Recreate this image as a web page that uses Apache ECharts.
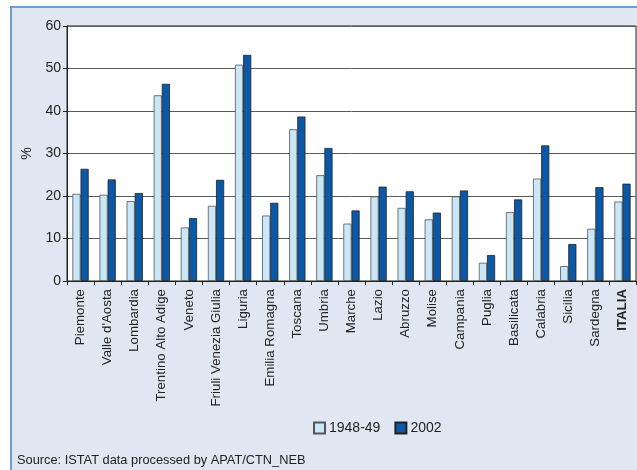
<!DOCTYPE html>
<html>
<head>
<meta charset="utf-8">
<script src="https://cdn.jsdelivr.net/npm/echarts@6/dist/echarts.min.js"></script>
<style>
html,body{margin:0;padding:0;background:#fff;}
#c{width:637px;height:470px;}
</style>
</head>
<body>
<div id="c"></div>
<script>
const categories = ["Piemonte","Valle d'Aosta","Lombardia","Trentino Alto Adige","Veneto","Friuli Venezia Giulia","Liguria","Emilia Romagna","Toscana","Umbria","Marche","Lazio","Abruzzo","Molise","Campania","Puglia","Basilicata","Calabria","Sicilia","Sardegna","ITALIA"];
const series1948 = [20.5,20.3,18.8,43.7,12.6,17.7,50.9,15.4,35.7,24.9,13.5,19.9,17.2,14.5,19.9,4.3,16.2,24.1,3.5,12.3,18.7];
const series2002 = [26.4,23.9,20.7,46.4,14.8,23.8,53.2,18.4,38.7,31.3,16.6,22.2,21.1,16.1,21.3,6.1,19.2,31.9,8.7,22.1,22.9];
const seriesNames = ["1948-49","2002"];
const sourceText = "Source: ISTAT data processed by APAT/CTN_NEB";

const FONT = "'Liberation Sans',Arial,sans-serif";
const chart = echarts.init(document.getElementById('c'), null, {renderer:'canvas'});
chart.setOption({
  animation:false,
  textStyle:{fontFamily:FONT},
  graphic:[
    {type:'rect', z:-10, shape:{x:10,y:6,width:640,height:470}, style:{fill:'#e1e7f2'}},
    {type:'line', z:-5, shape:{x1:10,y1:7,x2:637,y2:7}, style:{stroke:'#6e9fcf',lineWidth:2}},
    {type:'line', z:-5, shape:{x1:11,y1:6,x2:11,y2:470}, style:{stroke:'#6e9fcf',lineWidth:2}},
    {type:'text', left:17, top:454, style:{text:sourceText, fontSize:12.8, fontFamily:FONT, fill:'#222'}}
  ],
  grid:{left:67, right:1, top:26, bottom:189, show:true, backgroundColor:'#fff', borderColor:'#222', borderWidth:1},
  legend:{
    data:seriesNames, left:308, top:416, itemWidth:11, itemHeight:11, itemGap:14,
    icon:'rect',
    textStyle:{fontSize:14, color:'#222', fontFamily:FONT, padding:[0,0,0,-1]}
  },
  xAxis:{
    type:'category', data:categories,
    axisLine:{lineStyle:{color:'#222',width:1}},
    axisTick:{show:true, length:4, lineStyle:{color:'#222'}},
    axisLabel:{rotate:90, fontSize:13.3, color:'#222', margin:8, interval:0,
      formatter:function(v){return v==='ITALIA' ? '{b|'+v+'}' : v;},
      rich:{b:{fontWeight:'bold', fontSize:13.3, color:'#222'}}
    }
  },
  yAxis:{
    type:'value', min:0, max:60, interval:10,
    name:'%', nameLocation:'middle', nameGap:33, nameRotate:90,
    nameTextStyle:{fontSize:14, color:'#222'},
    axisLine:{show:true, lineStyle:{color:'#222'}},
    axisTick:{show:true, length:4, lineStyle:{color:'#222'}},
    axisLabel:{fontSize:14, color:'#222', margin:6},
    splitLine:{lineStyle:{color:'#5a5a5a',width:1}}
  },
  series:[
    {name:seriesNames[0], type:'bar', data:series1948, barGap:'0%', barCategoryGap:'40%',
     itemStyle:{color:'#c9e7f7', borderColor:'#555', borderWidth:0.8}},
    {name:seriesNames[1], type:'bar', data:series2002, barGap:'0%', barCategoryGap:'40%',
     itemStyle:{color:'#0a58a6', borderColor:'#222', borderWidth:0.8}}
  ]
});
</script>
</body>
</html>
